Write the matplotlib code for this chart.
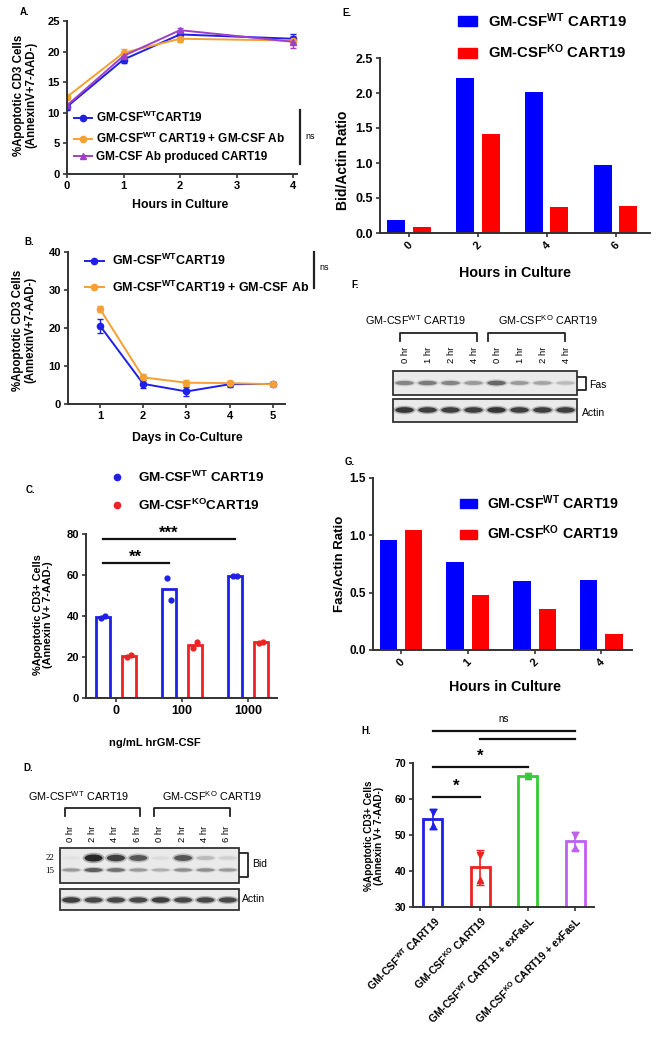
import matplotlib
matplotlib.use('Agg')
import matplotlib.pyplot as plt
from matplotlib.patches import Ellipse, Rectangle, Patch
from matplotlib.lines import Line2D
from matplotlib.ticker import FormatStrFormatter
import numpy as np

plt.rcParams['font.family'] = ['Liberation Sans', 'DejaVu Sans']
plt.rcParams['font.weight'] = 'bold'
plt.rcParams['mathtext.fontset'] = 'custom'
plt.rcParams['mathtext.rm'] = 'Liberation Sans:bold'
plt.rcParams['mathtext.bf'] = 'Liberation Sans:bold'
plt.rcParams['mathtext.it'] = 'Liberation Sans:bold'
plt.rcParams['mathtext.default'] = 'bf'
plt.rcParams['axes.linewidth'] = 1.4
plt.rcParams['axes.edgecolor'] = '#333333'

# ---------------- data ----------------
# Panel A
a_hours = [0, 1, 2, 4]
a_xticks = [0, 1, 2, 3, 4]
a_wt = [11.0, 18.7, 22.8, 22.1]
a_wt_err = [0.5, 0.6, 0.6, 0.8]
a_ab = [12.6, 19.8, 22.1, 21.8]
a_ab_err = [0.5, 0.6, 0.6, 0.6]
a_prod = [11.2, 19.3, 23.5, 21.6]
a_prod_err = [0.4, 0.5, 0.4, 1.0]

# Panel B
b_days = [1, 2, 3, 4, 5]
b_wt = [20.6, 5.3, 3.3, 5.2, 5.3]
b_wt_err = [1.8, 1.0, 1.2, 0.6, 0.5]
b_ab = [25.0, 7.0, 5.6, 5.5, 5.2]
b_ab_err = [0.8, 0.8, 0.8, 0.6, 0.5]

# Panel C
c_doses = ['0', '100', '1000']
c_wt_pts = [[39.0, 39.8], [58.5, 48.0], [59.3, 59.3]]
c_ko_pts = [[20.2, 21.0], [24.2, 27.5], [27.0, 27.2]]

# Panel D (western blot band intensities, 8 lanes)
d_lanes = ['0 hr', '2 hr', '4 hr', '6 hr', '0 hr', '2 hr', '4 hr', '6 hr']
d_bid22 = [0.03, 1.0, 0.85, 0.7, 0.05, 0.7, 0.2, 0.1]
d_bid15 = [0.35, 0.65, 0.55, 0.35, 0.25, 0.4, 0.4, 0.35]
d_actin = [0.85, 0.8, 0.8, 0.8, 0.85, 0.8, 0.8, 0.8]

# Panel E
e_hours = ['0', '2', '4', '6']
e_wt = [0.18, 2.22, 2.02, 0.97]
e_ko = [0.08, 1.42, 0.37, 0.39]

# Panel F (western blot)
f_lanes = ['0 hr', '1 hr', '2 hr', '4 hr', '0 hr', '1 hr', '2 hr', '4 hr']
f_fas = [0.45, 0.5, 0.45, 0.35, 0.6, 0.35, 0.3, 0.2]
f_actin = [0.9, 0.85, 0.85, 0.85, 0.9, 0.85, 0.85, 0.85]

# Panel G
g_hours = ['0', '1', '2', '4']
g_wt = [0.96, 0.77, 0.60, 0.61]
g_ko = [1.05, 0.48, 0.36, 0.14]

# Panel H
h_groups = [r'GM-CSF$^{WT}$ CART19', r'GM-CSF$^{KO}$ CART19',
            r'GM-CSF$^{WT}$ CART19 + exFasL', r'GM-CSF$^{KO}$ CART19 + exFasL']
h_pts = [[56.5, 52.5], [44.5, 37.5], [66.5, 66.5], [50.0, 46.5]]

WT = r'GM-CSF$^{WT}$ CART19'
KO = r'GM-CSF$^{KO}$ CART19'

BLUE = '#1f1fe8'
RED = '#ee2222'
ORANGE = '#f5a033'
PURPLE = '#a040c8'
GREEN = '#33cc33'
VIOLET = '#c060f0'
PBLUE = '#0000ff'
PRED = '#ff0000'

# ---------------- helpers ----------------
W, H = 657, 1050
fig = plt.figure(figsize=(W / 100, H / 100), dpi=100)


def add_ax(x0, y0, x1, y1):
    return fig.add_axes([x0 / W, 1 - y1 / H, (x1 - x0) / W, (y1 - y0) / H])


def ftext(x, y, s, **kw):
    kw.setdefault('ha', 'center')
    kw.setdefault('va', 'center')
    return fig.text(x / W, 1 - y / H, s, **kw)


def fline(xs, ys, lw=1.4, color='#222222'):
    fig.add_artist(Line2D([x / W for x in xs], [1 - y / H for y in ys],
                          transform=fig.transFigure, lw=lw, color=color))


def style(ax, fs):
    for s in ['top', 'right']:
        ax.spines[s].set_visible(False)
    ax.tick_params(direction='out', length=3, width=1.2, labelsize=fs, pad=2,
                   color='#333333')


def leg(ax, handles, labels, x, y, fs, **kw):
    return ax.legend(handles, labels, loc='upper left', bbox_to_anchor=(x / W, 1 - y / H),
                     bbox_transform=fig.transFigure, frameon=False, fontsize=fs,
                     borderpad=0, borderaxespad=0, **kw)

# ---------------- Panel A ----------------
axA = add_ax(67, 21, 297, 174)
style(axA, 8)
serA = [(a_wt, a_wt_err, BLUE, 'o', r'GM-CSF$^{WT}$CART19'),
        (a_ab, a_ab_err, ORANGE, 'o', r'GM-CSF$^{WT}$ CART19 + GM-CSF Ab'),
        (a_prod, a_prod_err, PURPLE, '^', 'GM-CSF Ab produced CART19')]
hA = []
for y, e, c, m, lab in serA:
    axA.errorbar(a_hours, y, yerr=e, color=c, marker=m, ms=4.5, lw=1.4, capsize=2, elinewidth=1)
    hA.append(Line2D([], [], color=c, marker=m, ms=4.5, lw=1.4))
axA.set_xlim(0, 4.07)
axA.set_ylim(0, 25)
axA.set_xticks(a_xticks)
axA.set_yticks([0, 5, 10, 15, 20, 25])
leg(axA, hA, [s[4] for s in serA], 74, 110, 8.5, handlelength=1.5, handletextpad=0.4,
    labelspacing=0.45)
fline([300, 300], [110, 164], lw=1.6)
ftext(305, 137, 'ns', fontsize=6.5, fontweight='normal', ha='left')
ftext(25, 12, 'A.', fontsize=7)
ftext(25, 95, '%Apoptotic CD3 Cells\n(AnnexinV+7-AAD-)', fontsize=8.3, rotation=90,
      linespacing=1.0)
ftext(180, 205, 'Hours in Culture', fontsize=8.8)

# ---------------- Panel B ----------------
axB = add_ax(68, 252, 285, 404)
style(axB, 8)
serB = [(b_wt, b_wt_err, BLUE, 'o', r'GM-CSF$^{WT}$CART19'),
        (b_ab, b_ab_err, ORANGE, 'o', r'GM-CSF$^{WT}$CART19 + GM-CSF Ab')]
hB = []
for y, e, c, m, lab in serB:
    axB.errorbar(b_days, y, yerr=e, color=c, marker=m, ms=4.5, lw=1.4, capsize=2, elinewidth=1)
    hB.append(Line2D([], [], color=c, marker=m, ms=4.5, lw=1.4))
axB.set_xlim(0.26, 5.28)
axB.set_ylim(0, 40)
axB.set_xticks(b_days)
axB.set_yticks([0, 10, 20, 30, 40])
leg(axB, hB, [s[4] for s in serB], 85, 253, 9, handlelength=1.5, handletextpad=0.7,
    labelspacing=0.9)
fline([314, 314], [252, 288], lw=1.6)
ftext(319, 268, 'ns', fontsize=6.5, fontweight='normal', ha='left')
ftext(29, 242, 'B.', fontsize=7)
ftext(24, 330, '%Apoptotic CD3 Cells\n(AnnexinV+7-AAD-)', fontsize=8.3, rotation=90,
      linespacing=1.0)
ftext(187, 438, 'Days in Co-Culture', fontsize=8.8)

# ---------------- Panel C ----------------
axC = add_ax(86, 534, 277, 698)
style(axC, 8)
xc = np.arange(len(c_doses))
wt_m = [np.mean(p) for p in c_wt_pts]
ko_m = [np.mean(p) for p in c_ko_pts]
axC.bar(xc - 0.2, wt_m, width=0.22, facecolor='none', edgecolor=BLUE, lw=2)
axC.bar(xc + 0.2, ko_m, width=0.22, facecolor='none', edgecolor=RED, lw=2)
for xi, pw, pk in zip(xc, c_wt_pts, c_ko_pts):
    axC.scatter([xi - 0.2 - 0.03, xi - 0.2 + 0.03], pw, color=BLUE, s=12, zorder=3)
    axC.scatter([xi + 0.2 - 0.03, xi + 0.2 + 0.03], pk, color=RED, s=12, zorder=3)
axC.set_xlim(-0.455, 2.44)
axC.set_ylim(0, 80)
axC.set_xticks(xc)
axC.set_xticklabels(c_doses, fontsize=9)
axC.set_yticks([0, 20, 40, 60, 80])
hC = [Line2D([], [], color=BLUE, marker='o', ms=4.5, lw=0),
      Line2D([], [], color=RED, marker='o', ms=4.5, lw=0)]
leg(axC, hC, [WT, r'GM-CSF$^{KO}$CART19'], 110, 470, 9.7, handlelength=1.0,
    handletextpad=1.1, labelspacing=0.95)
# significance
axC.plot([xc[0] - 0.2, xc[2] - 0.2], [77.6, 77.6], color='#111111', lw=1.6, clip_on=False)
axC.text((xc[0] + xc[2]) / 2 - 0.2, 80.5, '***', ha='center', va='center', fontsize=12)
axC.plot([xc[0] - 0.2, xc[1] - 0.2], [65.9, 65.9], color='#111111', lw=1.6, clip_on=False)
axC.text((xc[0] + xc[1]) / 2 - 0.2, 68.8, '**', ha='center', va='center', fontsize=12)
ftext(31, 490, 'C.', fontsize=7)
ftext(43, 615, '%Apoptotic CD3+ Cells\n(Annexin V+ 7-AAD-)', fontsize=7.8, rotation=90,
      linespacing=1.0)
ftext(155, 743, 'ng/mL hrGM-CSF', fontsize=8)

# ---------------- Blot helper ----------------
def blot(x0, x1, y0, y1, lanes, rows, boxes):
    ax = fig.add_axes([x0 / W, 1 - y1 / H, (x1 - x0) / W, (y1 - y0) / H])
    ax.set_xlim(0, len(lanes))
    ax.set_ylim(y1, y0)
    ax.axis('off')
    for (by0, by1) in boxes:
        ax.add_patch(Rectangle((0, by0), len(lanes), by1 - by0, facecolor='#eaeaea',
                               edgecolor='#333333', lw=1.3, clip_on=False))
    for yc, vals, hgt in rows:
        for i, v in enumerate(vals):
            ax.add_patch(Ellipse((i + 0.5, yc), 0.98, hgt * (0.8 + 0.7 * v),
                                 facecolor='#111111', alpha=0.3 * v, lw=0, clip_on=False))
            ax.add_patch(Ellipse((i + 0.5, yc), 0.8, hgt * (0.45 + 0.55 * v),
                                 facecolor='#111111', alpha=0.85 * v, lw=0, clip_on=False))
    return ax


WTr = r'GM-CSF$^{\mathregular{WT}}$ CART19'
KOr = r'GM-CSF$^{\mathregular{KO}}$ CART19'

# ---------------- Panel D ----------------
dx0, dx1 = 60, 239
blot(dx0, dx1, 846, 912, d_lanes,
     [(858, d_bid22, 7), (870, d_bid15, 5), (900, d_actin, 6)],
     [(848, 883), (889, 910)])
lw_d = (dx1 - dx0) / len(d_lanes)
for i, lab in enumerate(d_lanes):
    ftext(dx0 + (i + 0.5) * lw_d - 1, 842, lab, rotation=90, va='bottom', fontsize=6.8,
          fontweight='normal')
ftext(79, 796, WTr, fontsize=7.8, fontweight='normal')
ftext(212, 796, KOr, fontsize=7.8, fontweight='normal')
fline([65, 65, 140, 140], [816, 808, 808, 816], lw=1.3)
fline([154, 154, 230, 230], [816, 808, 808, 816], lw=1.3)
fline([240, 248, 248, 240], [853, 853, 877, 877], lw=1.3)
ftext(252, 864, 'Bid', fontsize=7.5, fontweight='normal', ha='left')
ftext(242, 899, 'Actin', fontsize=7.5, fontweight='normal', ha='left')
ftext(50, 858, '22', fontsize=6.5, fontweight='normal', family='Liberation Serif')
ftext(50, 871, '15', fontsize=6.5, fontweight='normal', family='Liberation Serif')
ftext(28, 768, 'D.', fontsize=7)

# ---------------- Panel E ----------------
axE = add_ax(380, 58, 650, 233)
style(axE, 9)
xe = np.arange(len(e_hours))
axE.bar(xe - 0.185, e_wt, width=0.26, color=PBLUE)
axE.bar(xe + 0.185, e_ko, width=0.26, color=PRED)
axE.set_xlim(-0.42, 3.5)
axE.set_ylim(0, 2.5)
axE.set_yticks([0, 0.5, 1.0, 1.5, 2.0, 2.5])
axE.yaxis.set_major_formatter(FormatStrFormatter('%.1f'))
axE.set_xticks(xe)
axE.set_xticklabels(e_hours, rotation=45, fontsize=8)
leg(axE, [Patch(color=PBLUE), Patch(color=PRED)], [WT, KO], 458, 11, 10.7,
    handlelength=1.3, handleheight=0.65, handletextpad=0.7, labelspacing=0.85)
ftext(347, 13, 'E.', fontsize=7)
ftext(343, 160, 'Bid/Actin Ratio', fontsize=10, rotation=90)
ftext(515, 273, 'Hours in Culture', fontsize=10.3)

# ---------------- Panel F ----------------
fx0, fx1 = 393, 577
blot(fx0, fx1, 368, 424, f_lanes,
     [(383, f_fas, 6), (410, f_actin, 6)],
     [(371, 395), (399, 422)])
lw_f = (fx1 - fx0) / len(f_lanes)
for i, lab in enumerate(f_lanes):
    ftext(fx0 + (i + 0.5) * lw_f + 1, 363, lab, rotation=90, va='bottom', fontsize=6.8,
          fontweight='normal')
ftext(416, 320, WTr, fontsize=7.8, fontweight='normal')
ftext(548, 320, KOr, fontsize=7.8, fontweight='normal')
fline([400, 400, 477, 477], [341, 333, 333, 341], lw=1.3)
fline([488, 488, 565, 565], [341, 333, 333, 341], lw=1.3)
fline([578, 586, 586, 578], [377, 377, 390, 390], lw=1.3)
ftext(589, 385, 'Fas', fontsize=7.5, fontweight='normal', ha='left')
ftext(582, 413, 'Actin', fontsize=7.5, fontweight='normal', ha='left')
ftext(355, 285, 'F.', fontsize=7)

# ---------------- Panel G ----------------
axG = add_ax(373, 478, 632, 650)
style(axG, 8.5)
xg = np.arange(len(g_hours))
axG.bar(xg - 0.19, g_wt, width=0.26, color=PBLUE)
axG.bar(xg + 0.19, g_ko, width=0.26, color=PRED)
axG.set_xlim(-0.42, 3.46)
axG.set_ylim(0, 1.5)
axG.set_yticks([0, 0.5, 1.0, 1.5])
axG.yaxis.set_major_formatter(FormatStrFormatter('%.1f'))
axG.set_xticks(xg)
axG.set_xticklabels(g_hours, rotation=45, fontsize=8)
leg(axG, [Patch(color=PBLUE), Patch(color=PRED)], [WT, KO], 460, 493, 10.2,
    handlelength=1.2, handleheight=0.65, handletextpad=0.7, labelspacing=0.85)
ftext(350, 462, 'G.', fontsize=7)
ftext(340, 564, 'Fas/Actin Ratio', fontsize=9.5, rotation=90)
ftext(505, 687, 'Hours in Culture', fontsize=10.3)

# ---------------- Panel H ----------------
axH = add_ax(413, 763, 594, 907)
style(axH, 7.5)
xh = np.arange(len(h_groups))
h_cols = [BLUE, RED, GREEN, VIOLET]
h_mean = [np.mean(p) for p in h_pts]
h_sd = [np.std(p, ddof=1) for p in h_pts]
axH.bar(xh, h_mean, width=0.4, facecolor='none', edgecolor=h_cols, lw=2)
for xi, p, m, s, c in zip(xh, h_pts, h_mean, h_sd, h_cols):
    axH.errorbar([xi], [m], yerr=[s], color=c, capsize=3, lw=1.2, fmt='none')
    axH.scatter([xi], [p[0]], marker='v', color=c, s=20, zorder=3)
    axH.scatter([xi], [p[1]], marker='^', color=c, s=20, zorder=3)
axH.set_xlim(-0.42, 3.4)
axH.set_ylim(30, 70)
axH.set_yticks([30, 40, 50, 60, 70])
axH.set_xticks(xh)
axH.set_xticklabels(h_groups, rotation=45, ha='right', rotation_mode='anchor', fontsize=7.5)
sig = dict(color='#111111', lw=1.6, clip_on=False)
axH.plot([xh[0], xh[1]], [60.6, 60.6], **sig)
axH.text((xh[0] + xh[1]) / 2, 63.4, '*', ha='center', va='center', fontsize=12, clip_on=False)
axH.plot([xh[0], xh[2]], [68.9, 68.9], **sig)
axH.text((xh[0] + xh[2]) / 2, 71.9, '*', ha='center', va='center', fontsize=12, clip_on=False)
axH.plot([xh[0], xh[3]], [78.9, 78.9], **sig)
axH.plot([xh[1], xh[3]], [76.7, 76.7], **sig)
axH.text(1.5, 82.2, 'ns', ha='center', va='center', fontsize=7, fontweight='normal',
         clip_on=False)
ftext(366, 731, 'H.', fontsize=7)
ftext(374, 836, '%Apoptotic CD3+ Cells\n(Annexin V+ 7-AAD-)', fontsize=7.2, rotation=90,
      linespacing=1.0)

fig.savefig('out.png', dpi=100)
